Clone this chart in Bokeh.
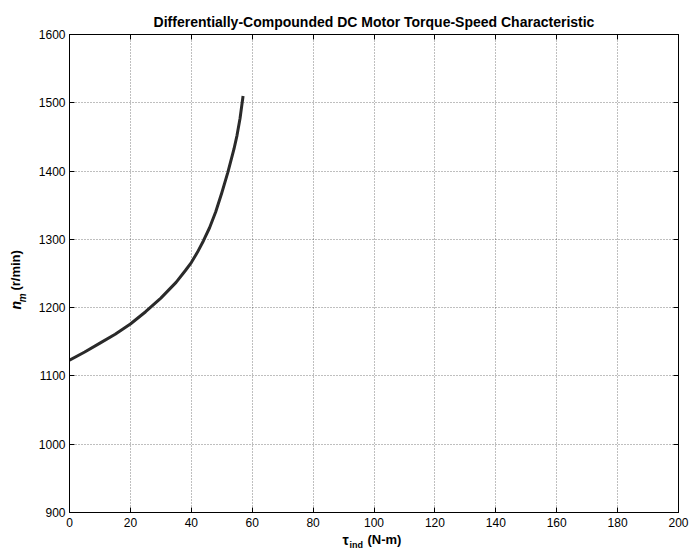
import math
from bokeh.plotting import figure
from bokeh.layouts import column, row
from bokeh.models import LinearAxis, Range1d, FixedTicker
from bokeh.core.properties import value
from bokeh.embed import file_html
from bokeh.resources import INLINE

torque = [0, 5, 10, 15, 20, 25, 30, 35, 38, 40, 42, 44, 46, 48, 50, 52, 54, 55, 56, 57]
speed = [1123, 1135, 1148, 1161, 1176, 1194, 1214, 1237, 1254, 1266, 1281, 1298, 1317, 1340,
         1368, 1398, 1432, 1452, 1477, 1510]
x_ticks = [0, 20, 40, 60, 80, 100, 120, 140, 160, 180, 200]
y_ticks = [900, 1000, 1100, 1200, 1300, 1400, 1500, 1600]

title_text = "Differentially-Compounded DC Motor Torque-Speed Characteristic"
xlabel_parts = ["τ", "ind", "(N-m)"]
ylabel_parts = ["n", "m", "(r/min)"]

FONT = "Liberation Sans"
W_TOTAL, H_TOTAL = 689, 549
W_YL = 30          # width of the strip holding the y-axis label
H_MAIN = 532       # height of the main plot (x-axis label strip below)
H_XL = H_TOTAL - H_MAIN

# ---------------- main plot ----------------
p = figure(width=W_TOTAL - W_YL, height=H_MAIN, output_backend="svg", toolbar_location=None,
           x_range=Range1d(0, 200), y_range=Range1d(900, 1600),
           min_border_left=39, min_border_right=11, min_border_top=34, min_border_bottom=20)

p.title.text = title_text
p.title.align = "center"
p.title.text_font = FONT
p.title.text_font_size = "14px"
p.title.text_font_style = "bold"
p.title.text_color = "black"
p.title.offset = 0

p.line(torque, speed, line_color="#2a2a2a", line_width=3, line_join="round")

for ax in (p.xaxis[0], p.yaxis[0]):
    ax.major_tick_in = 5
    ax.major_tick_out = 0
    ax.minor_tick_in = 0
    ax.minor_tick_out = 0
    ax.axis_line_color = "black"
    ax.major_tick_line_color = "black"
    ax.major_label_text_font = FONT
    ax.major_label_text_font_size = "12px"
    ax.major_label_text_color = "black"
p.xaxis[0].major_label_standoff = 5
p.yaxis[0].major_label_standoff = 4
p.xaxis[0].ticker = FixedTicker(ticks=x_ticks)
p.yaxis[0].ticker = FixedTicker(ticks=y_ticks)

ax_top = LinearAxis(ticker=FixedTicker(ticks=x_ticks), major_tick_in=5, major_tick_out=0,
                    minor_tick_in=0, minor_tick_out=0, major_label_text_alpha=0,
                    major_label_text_font_size="1px", major_label_standoff=0)
ax_right = LinearAxis(ticker=FixedTicker(ticks=y_ticks), major_tick_in=5, major_tick_out=0,
                      minor_tick_in=0, minor_tick_out=0, major_label_text_alpha=0,
                      major_label_text_font_size="1px", major_label_standoff=0)
p.add_layout(ax_top, "above")
p.add_layout(ax_right, "right")

p.xgrid.ticker = FixedTicker(ticks=x_ticks)
p.ygrid.ticker = FixedTicker(ticks=y_ticks)
for g in (p.xgrid[0], p.ygrid[0]):
    g.grid_line_color = "black"
    g.grid_line_alpha = 0.5
    g.grid_line_dash = "1 2"
    g.grid_line_width = 1
p.outline_line_color = "black"


def text_strip(w, h):
    f = figure(width=w, height=h, output_backend="svg", toolbar_location=None,
               x_range=Range1d(0, w), y_range=Range1d(0, h),
               x_axis_type=None, y_axis_type=None,
               min_border_left=0, min_border_right=0, min_border_top=0, min_border_bottom=0)
    f.xgrid.visible = False
    f.ygrid.visible = False
    f.outline_line_color = None
    return f


# ---------------- y-axis label strip (pixel coordinates, y up) ----------------
yl = text_strip(W_YL, H_MAIN)
ang = math.pi / 2
top_y = lambda yc: H_MAIN - yc   # convert "from top" to strip coordinates
yl.text(x=[15], y=[top_y(306)], text=[ylabel_parts[0]], angle=ang,
        text_font=value(FONT), text_font_size="14px", text_font_style="bold italic",
        text_color="black", text_align="left", text_baseline="middle")
yl.text(x=[21.5], y=[top_y(298)], text=[ylabel_parts[1]], angle=ang,
        text_font=value(FONT), text_font_size="10px", text_font_style="bold italic",
        text_color="black", text_align="left", text_baseline="middle")
yl.text(x=[15], y=[top_y(285)], text=[ylabel_parts[2]], angle=ang,
        text_font=value(FONT), text_font_size="13px", text_font_style="bold",
        text_color="black", text_align="left", text_baseline="middle")

# ---------------- x-axis label strip ----------------
xl = text_strip(W_TOTAL, H_XL)
xtop = lambda yc: H_XL - (yc - H_MAIN)
xl.text(x=[342], y=[xtop(539)], text=[xlabel_parts[0]],
        text_font=value(FONT), text_font_size="14px", text_font_style="bold",
        text_color="black", text_align="left", text_baseline="middle")
xl.text(x=[349], y=[xtop(544)], text=[xlabel_parts[1]],
        text_font=value(FONT), text_font_size="9px", text_font_style="bold",
        text_color="black", text_align="left", text_baseline="middle")
xl.text(x=[367], y=[xtop(539)], text=[xlabel_parts[2]],
        text_font=value(FONT), text_font_size="13px", text_font_style="bold",
        text_color="black", text_align="left", text_baseline="middle")

layout = column(row(yl, p, spacing=0), xl, spacing=0)
open("out.html", "w").write(file_html(layout, INLINE))
